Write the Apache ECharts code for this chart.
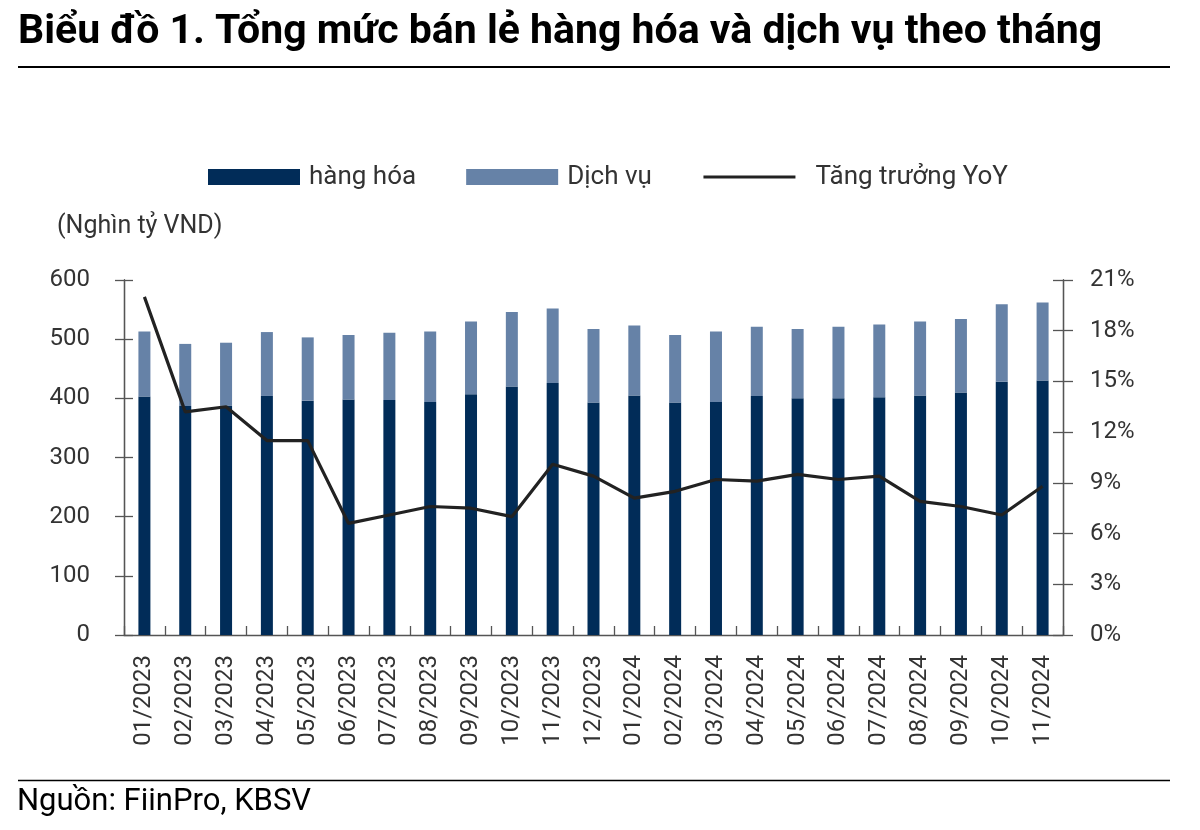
<!DOCTYPE html>
<html>
<head>
<meta charset="utf-8">
<script src="https://cdn.jsdelivr.net/npm/echarts@6/dist/echarts.min.js"></script>
<style>
html,body{margin:0;padding:0;background:#fff;}
#c{width:1200px;height:830px;}
</style>
</head>
<body>
<div id="c"></div>
<script>
const categories = ['01/2023','02/2023','03/2023','04/2023','05/2023','06/2023','07/2023','08/2023','09/2023','10/2023','11/2023','12/2023','01/2024','02/2024','03/2024','04/2024','05/2024','06/2024','07/2024','08/2024','09/2024','10/2024','11/2024'];
const hangHoa = [403, 387, 388, 404, 396, 398, 397, 394, 407, 420, 426, 393, 405, 393, 394, 404, 400, 400, 402, 405, 410, 428, 430];
const dichVu = [110, 105, 106, 108, 107, 109, 114, 119, 123, 126, 126, 124, 118, 114, 119, 117, 117, 121, 123, 125, 124, 131, 132];
const yoy = [20.0, 13.2, 13.5, 11.5, 11.5, 6.6, 7.1, 7.6, 7.5, 7.0, 10.1, 9.4, 8.1, 8.5, 9.2, 9.1, 9.5, 9.2, 9.4, 7.9, 7.6, 7.1, 8.8];
const leftTicks = [0, 600, 100];
const rightTicks = [0, 21, 3];

const FONT = 'Roboto';
const chart = echarts.init(document.getElementById('c'), null, {renderer: 'canvas'});
const axisColor = '#555';
const labelColor = '#333';

function yAx(pos, ticks, showLabel, inside, len, margin, fmt) {
  return {
    type: 'value', position: pos, min: ticks[0], max: ticks[1], interval: ticks[2],
    axisLine: {show: true, lineStyle: {color: axisColor, width: 1.3}},
    axisTick: {show: true, inside: inside, length: len, lineStyle: {color: axisColor, width: 1.3}},
    axisLabel: {show: showLabel, color: labelColor, fontFamily: FONT, fontSize: 24, margin: margin, formatter: fmt},
    splitLine: {show: false}
  };
}

chart.setOption({
  animation: false,
  backgroundColor: '#fff',
  textStyle: {fontFamily: FONT},
  grid: {left: 124, right: 137, top: 280, bottom: 195, containLabel: false},
  legend: {
    left: 208, top: 164, padding: 0, itemWidth: 92, itemHeight: 16, itemGap: 50,
    textStyle: {fontFamily: FONT, fontSize: 26, color: labelColor, padding: [0, 0, 0, 4]},
    data: [
      {name: 'hàng hóa', icon: 'rect'},
      {name: 'Dịch vụ', icon: 'rect'},
      {name: 'Tăng trưởng YoY', itemStyle: {opacity: 0}, lineStyle: {color: '#222', width: 3.2, opacity: 1},
       textStyle: {fontFamily: FONT, fontSize: 26, color: labelColor, padding: [0, 0, 0, 15]}}
    ]
  },
  xAxis: {
    type: 'category', data: categories,
    axisLine: {lineStyle: {color: axisColor, width: 1.3}},
    axisTick: {show: true, inside: true, length: 9, alignWithLabel: false, lineStyle: {color: axisColor, width: 1.3}},
    axisLabel: {rotate: 90, color: labelColor, fontFamily: FONT, fontSize: 24, margin: 20, interval: 0}
  },
  yAxis: [
    yAx('left', leftTicks, true, false, 9, 34, '{value}'),
    yAx('right', rightTicks, true, false, 10, 27, '{value}%'),
    yAx('left', leftTicks, false, true, 9, 0),
    yAx('right', rightTicks, false, true, 10, 0)
  ],
  series: [
    {name: 'hàng hóa', type: 'bar', stack: 'total', data: hangHoa, barWidth: 12, yAxisIndex: 0,
     itemStyle: {color: '#012c58'}},
    {name: 'Dịch vụ', type: 'bar', stack: 'total', data: dichVu, barWidth: 12, yAxisIndex: 0,
     itemStyle: {color: '#6682a7'}},
    {name: 'Tăng trưởng YoY', type: 'line', data: yoy, yAxisIndex: 1, symbol: 'none',
     lineStyle: {color: '#222', width: 3.2}, itemStyle: {color: '#222'}}
  ],
  graphic: [
    {type: 'text', left: 18, top: 12, style: {text: 'Biểu đồ 1. Tổng mức bán lẻ hàng hóa và dịch vụ theo tháng', fontFamily: FONT, fontWeight: 'bold', fontSize: 41, fill: '#000'}},
    {type: 'line', shape: {x1: 18, y1: 67, x2: 1170, y2: 67}, style: {stroke: '#000', lineWidth: 2}},
    {type: 'text', left: 57, top: 214, style: {text: '(Nghìn tỷ VND)', fontFamily: FONT, fontSize: 25, fill: labelColor}},
    {type: 'line', shape: {x1: 18, y1: 780.5, x2: 1170, y2: 780.5}, style: {stroke: '#000', lineWidth: 1.5}},
    {type: 'text', left: 17, top: 787, style: {text: 'Nguồn: FiinPro, KBSV', fontFamily: FONT, fontSize: 31, fill: '#000'}}
  ]
});
</script>
</body>
</html>
